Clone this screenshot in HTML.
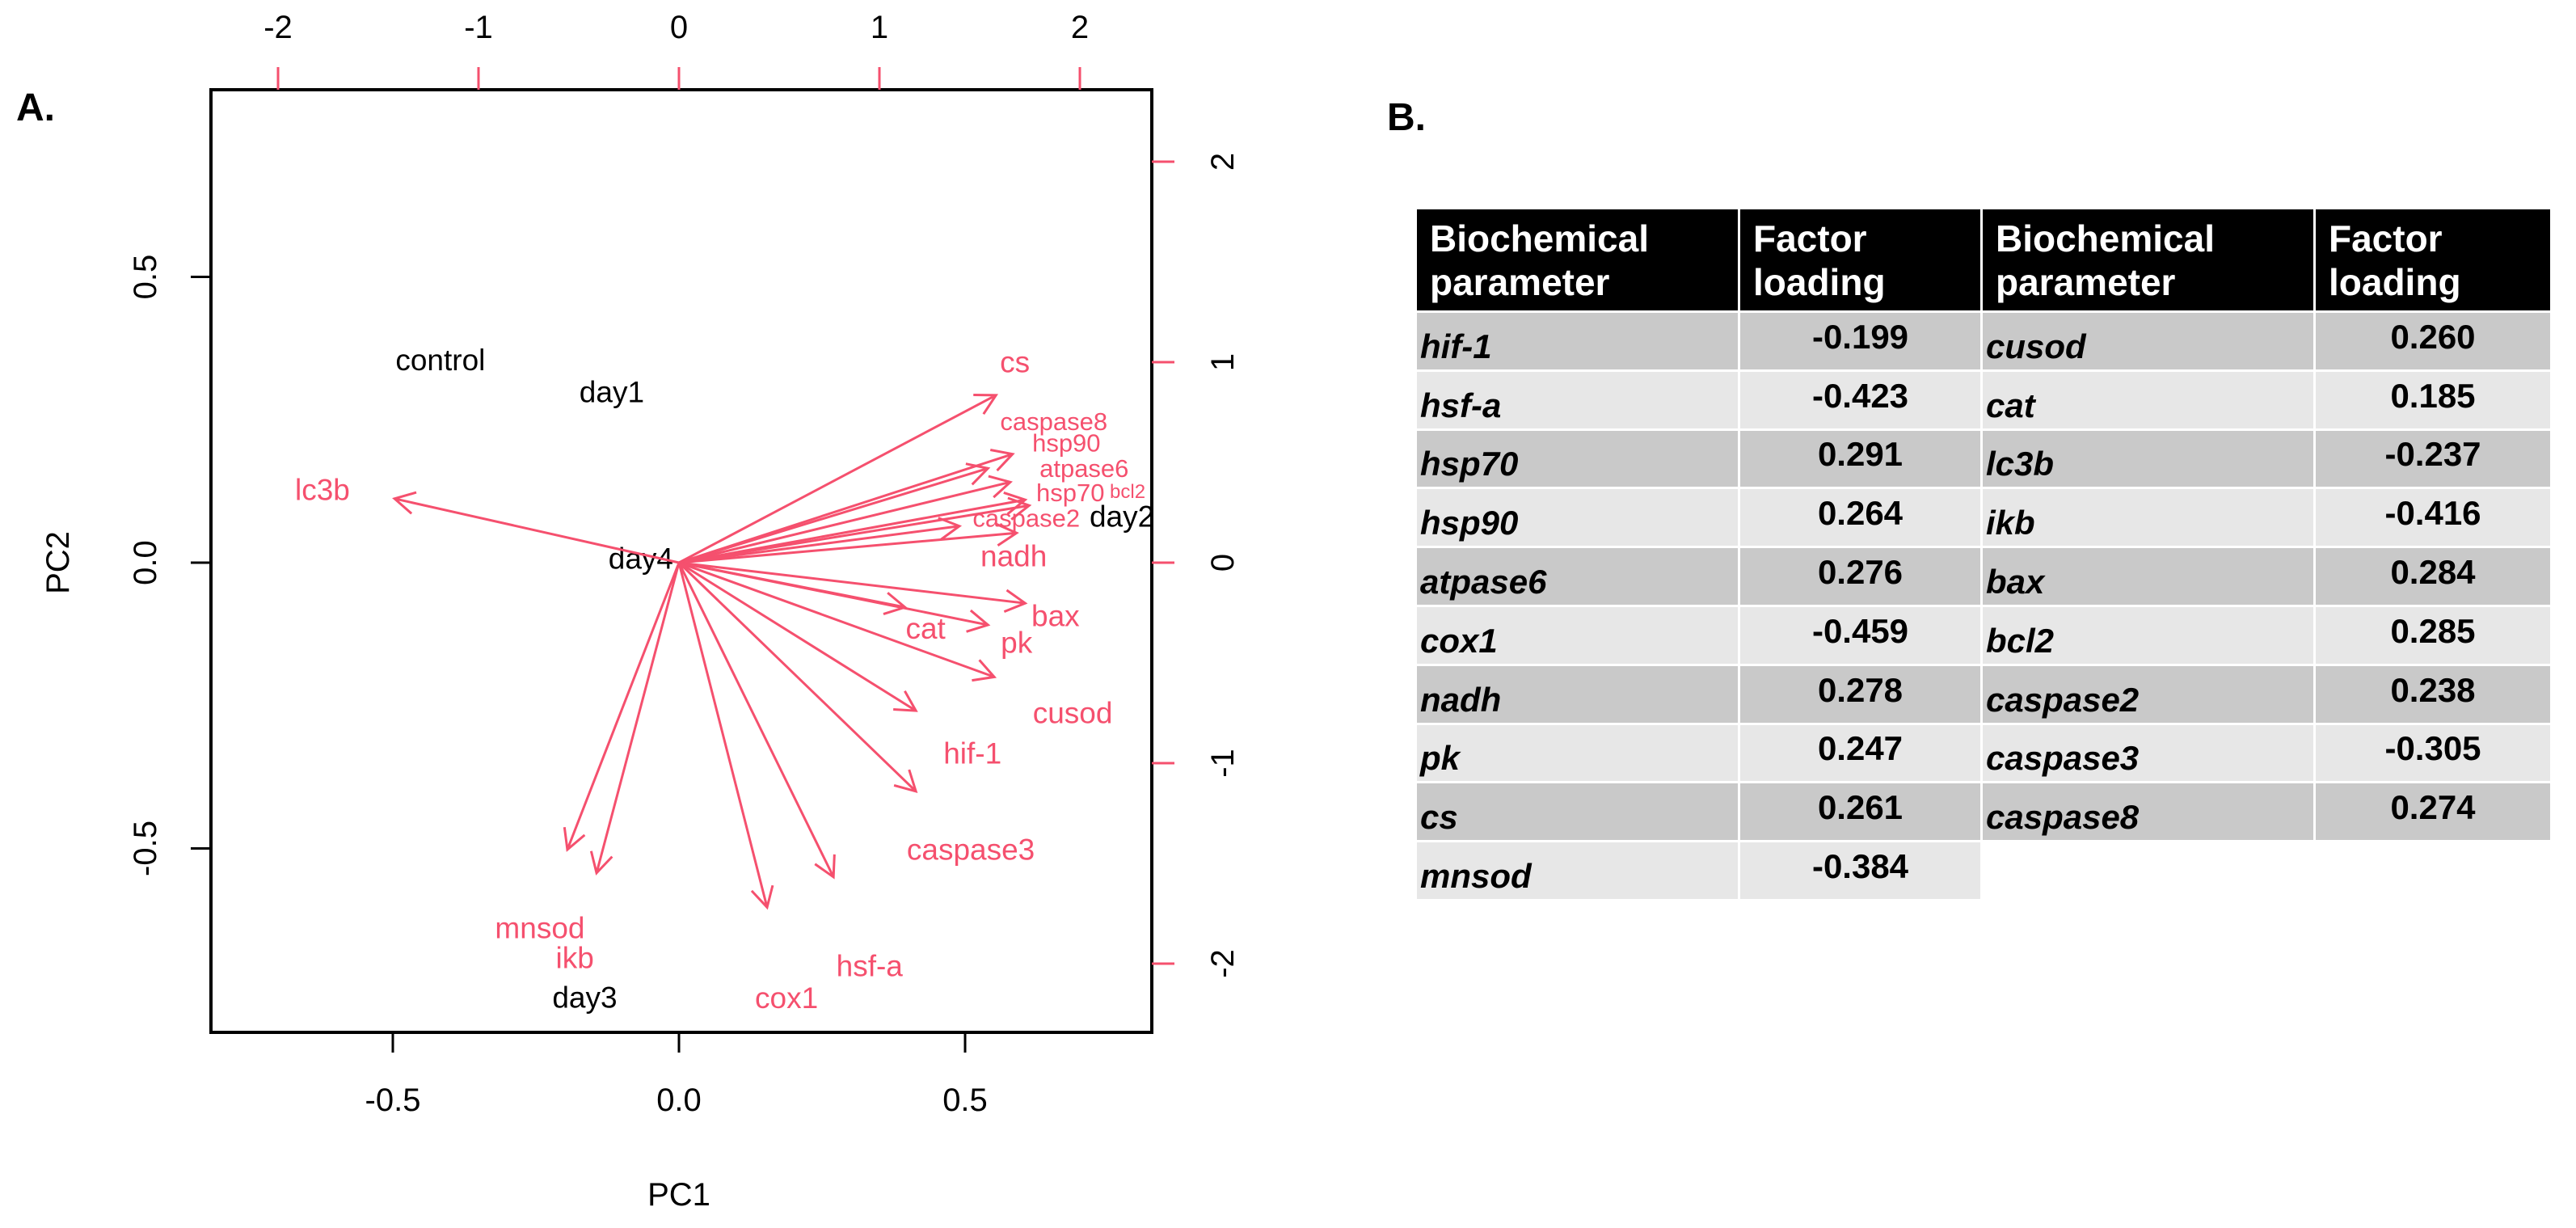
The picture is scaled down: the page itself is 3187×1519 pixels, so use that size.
<!DOCTYPE html>
<html><head><meta charset="utf-8">
<style>
html,body{margin:0;padding:0;background:#fff;}
body{width:3187px;height:1519px;position:relative;overflow:hidden;font-family:"Liberation Sans",sans-serif;}
#chart{position:absolute;left:0;top:0;}
.panel{position:absolute;font-weight:bold;font-size:48px;color:#000;}
table{position:absolute;left:1753px;top:259px;border-collapse:separate;border-spacing:0;table-layout:fixed;width:1405px;}
td,th{padding:0;box-sizing:border-box;overflow:hidden;white-space:nowrap;}
th{background:#000;color:#fff;text-align:left;font-size:46px;font-weight:bold;line-height:54px;height:125px;padding-left:16px;vertical-align:middle;border-right:3px solid #fff;}
td{height:72.8px;border-top:3px solid #fff;border-right:3px solid #fff;font-size:42px;font-weight:bold;}
td.n{font-style:italic;padding-left:4px;padding-top:14px;}
td.v{text-align:center;padding-bottom:10px;}
tr.d td.f{background:#c9c9c9;}
tr.l td.f{background:#e7e7e7;}
</style></head>
<body>
<div class="panel" style="left:20px;top:106px;">A.</div>
<div class="panel" style="left:1716px;top:118px;">B.</div>
<svg id="chart" width="1600" height="1519" xmlns="http://www.w3.org/2000/svg"></svg>

<table>
<colgroup><col style="width:400px"><col style="width:300px"><col style="width:412px"><col style="width:293px"></colgroup>
<tr><th>Biochemical<br>parameter</th><th>Factor<br>loading</th><th>Biochemical<br>parameter</th><th>Factor<br>loading</th></tr>
<tr class="d"><td class="n f">hif-1</td><td class="v f">-0.199</td><td class="n f">cusod</td><td class="v f">0.260</td></tr>
<tr class="l"><td class="n f">hsf-a</td><td class="v f">-0.423</td><td class="n f">cat</td><td class="v f">0.185</td></tr>
<tr class="d"><td class="n f">hsp70</td><td class="v f">0.291</td><td class="n f">lc3b</td><td class="v f">-0.237</td></tr>
<tr class="l"><td class="n f">hsp90</td><td class="v f">0.264</td><td class="n f">ikb</td><td class="v f">-0.416</td></tr>
<tr class="d"><td class="n f">atpase6</td><td class="v f">0.276</td><td class="n f">bax</td><td class="v f">0.284</td></tr>
<tr class="l"><td class="n f">cox1</td><td class="v f">-0.459</td><td class="n f">bcl2</td><td class="v f">0.285</td></tr>
<tr class="d"><td class="n f">nadh</td><td class="v f">0.278</td><td class="n f">caspase2</td><td class="v f">0.238</td></tr>
<tr class="l"><td class="n f">pk</td><td class="v f">0.247</td><td class="n f">caspase3</td><td class="v f">-0.305</td></tr>
<tr class="d"><td class="n f">cs</td><td class="v f">0.261</td><td class="n f">caspase8</td><td class="v f">0.274</td></tr>
<tr class="l"><td class="n f">mnsod</td><td class="v f">-0.384</td><td style="border:none"></td><td style="border:none"></td></tr>
</table>

<script>
const varNames = ["cs","hsp90","caspase8","atpase6","hsp70","bcl2","caspase2","nadh","bax","cat","pk","cusod","hif-1","caspase3","hsf-a","cox1","ikb","mnsod","lc3b"];
const loadX = [0.554,0.583,0.540,0.579,0.605,0.612,0.490,0.590,0.605,0.395,0.540,0.551,0.414,0.414,0.270,0.154,-0.144,-0.195,-0.497];
const loadY = [0.293,0.190,0.165,0.141,0.110,0.100,0.064,0.052,-0.071,-0.078,-0.109,-0.200,-0.259,-0.400,-0.550,-0.603,-0.543,-0.502,0.112];
const labelX = [0.587,0.677,0.655,0.708,0.684,0.784,0.607,0.585,0.658,0.431,0.590,0.688,0.513,0.510,0.333,0.188,-0.182,-0.243,-0.623];
const labelY = [0.351,0.209,0.247,0.165,0.122,0.124,0.078,0.011,-0.093,-0.115,-0.140,-0.263,-0.334,-0.502,-0.706,-0.762,-0.692,-0.639,0.127];
const labelSize = [37,31,31,31,31,24,31,37,37,37,37,37,37,37,37,37,37,37,37];
const sampleNames = ["control","day1","day4","day2","day3"];
const scoreX = [-1.19,-0.335,-0.19,2.21,-0.47];
const scoreY = [1.01,0.85,0.02,0.23,-2.17];
const bottomTicks = [-0.5,0.0,0.5];
const leftTicks = [-0.5,0.0,0.5];
const topTicks = [-2,-1,0,1,2];
const rightTicks = [-2,-1,0,1,2];

const NS="http://www.w3.org/2000/svg";
const svg=document.getElementById('chart');
const RED="#f5506e";
const box={l:261,r:1425,t:111,b:1277};
const x1=v=>840+708*v, y1=v=>696-707*v;
const x2=v=>840+248*v, y2=v=>696-248*v;
function mk(tag,attrs){const e=document.createElementNS(NS,tag);for(const k in attrs)e.setAttribute(k,attrs[k]);svg.appendChild(e);return e;}
function txt(s,x,y,size,fill,rot){const e=mk('text',{x:x,y:y,'font-size':size,fill:fill,'text-anchor':'middle','dominant-baseline':'central','font-family':'Liberation Sans, sans-serif'});if(rot)e.setAttribute('transform','rotate(-90 '+x+' '+y+')');e.textContent=s;return e;}

const frame=mk('rect',{x:box.l,y:box.t,width:box.r-box.l,height:box.b-box.t,fill:'none',stroke:'#000','stroke-width':4});



bottomTicks.forEach(v=>{
  const l=mk('line',{x1:x1(v),x2:x1(v),y1:box.b,y2:box.b+25,stroke:'#000','stroke-width':3});
  
  
  const t=txt(v.toFixed(1),x1(v),1361,40,'#000');
  
  
});
leftTicks.forEach(v=>{
  const l=mk('line',{x1:box.l-25,x2:box.l,y1:y1(v),y2:y1(v),stroke:'#000','stroke-width':3});
  
  
  const t=txt(v.toFixed(1),180,y1(v),40,'#000',true);
  
  
});
topTicks.forEach(v=>{
  const l=mk('line',{x1:x2(v),x2:x2(v),y1:box.t-28,y2:box.t,stroke:RED,'stroke-width':3});
  
  
  const t=txt(String(v),x2(v),34,40,'#000');
  
  
});
rightTicks.forEach(v=>{
  const l=mk('line',{x1:box.r,x2:box.r+28,y1:y2(v),y2:y2(v),stroke:RED,'stroke-width':3});
  
  
  const t=txt(String(v),1513,y2(v),40,'#000',true);
  
  
});
const xt=txt('PC1',840,1478,40,'#000');


const yt=txt('PC2',72,696,40,'#000',true);



sampleNames.forEach((s,i)=>{
  const t=txt(s,x2(scoreX[i]),y2(scoreY[i]),37,'#000');
  
  
});

const ox=x1(0), oy=y1(0);
varNames.forEach((n,i)=>{
  const tx=x1(loadX[i]), ty=y1(loadY[i]);
  const ang=Math.atan2(ty-oy,tx-ox), L=28, a=0.5;
  const p1=[tx-L*Math.cos(ang-a),ty-L*Math.sin(ang-a)], p2=[tx-L*Math.cos(ang+a),ty-L*Math.sin(ang+a)];
  const g=mk('path',{d:`M${ox},${oy}L${tx},${ty}M${p1[0]},${p1[1]}L${tx},${ty}L${p2[0]},${p2[1]}`,fill:'none',stroke:RED,'stroke-width':3});
  
  
  const t=txt(n,x1(labelX[i]),y1(labelY[i]),labelSize[i],RED);
  
  
});
</script>
</body></html>
